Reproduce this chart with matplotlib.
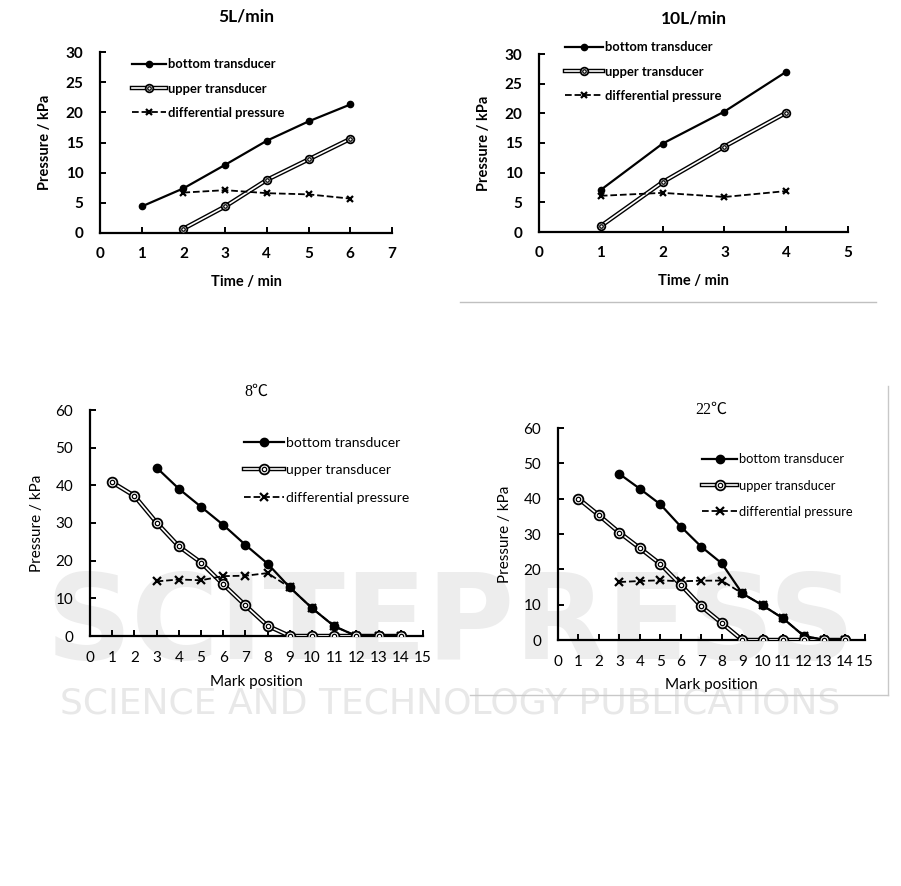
import matplotlib
matplotlib.use('Agg')
import matplotlib.pyplot as plt
from matplotlib.lines import Line2D

# top panels: pressure vs time
t5 = [1, 2, 3, 4, 5, 6]
bottom5 = [4.4, 7.4, 11.3, 15.3, 18.5, 21.3]
t5_up = [2, 3, 4, 5, 6]
upper5 = [0.7, 4.4, 8.8, 12.2, 15.6]
diff5 = [6.7, 7.1, 6.6, 6.4, 5.7]

t10 = [1, 2, 3, 4]
bottom10 = [7.1, 14.9, 20.3, 27.0]
upper10 = [1.0, 8.4, 14.4, 20.1]
diff10 = [6.1, 6.6, 5.9, 6.9]

# bottom panels: pressure vs mark position
mark_b = [3, 4, 5, 6, 7, 8, 9, 10, 11, 12, 13, 14]
mark_u = [1, 2, 3, 4, 5, 6, 7, 8, 9, 10, 11, 12, 13, 14]
bottom8 = [44.7, 39.1, 34.3, 29.5, 24.2, 19.2, 12.9, 7.4, 2.6, 0, 0, 0]
upper8 = [40.8, 37.2, 30.1, 23.8, 19.5, 13.7, 8.1, 2.7, 0, 0, 0, 0, 0, 0]
diff8 = [14.5, 15.0, 14.8, 15.9, 16.0, 16.7, 12.9, 7.4, 2.6, 0, 0, 0]

bottom22 = [47.0, 42.8, 38.4, 32.1, 26.4, 21.7, 13.2, 9.8, 6.1, 1.2, 0, 0]
upper22 = [40.0, 35.3, 30.4, 26.0, 21.5, 15.6, 9.5, 4.8, 0, 0, 0, 0, 0, 0]
diff22 = [16.4, 16.7, 16.9, 16.6, 16.8, 16.8, 13.2, 9.8, 6.1, 1.2, 0, 0]

labels = ['bottom transducer', 'upper transducer', 'differential pressure']

W, H = 901, 886
fig = plt.figure(figsize=(W / 100, H / 100), dpi=100)
fig.patch.set_facecolor('white')

# faint watermark behind everything
fig.text(0.5, 1 - 626 / H, 'SCITEPRESS', ha='center', va='center', fontsize=86,
         fontweight='bold', color='#ededed', family='DejaVu Sans', zorder=-5)
fig.text(0.5, 1 - 703 / H, 'SCIENCE AND TECHNOLOGY PUBLICATIONS', ha='center', va='center',
         fontsize=26, color='#e8e8e8', family='DejaVu Sans', zorder=-5)


def px_axes(l, r, t, b):
    ax = fig.add_axes([l / W, 1 - b / H, (r - l) / W, (b - t) / H])
    ax.patch.set_alpha(0)
    for s in ['top', 'right']:
        ax.spines[s].set_visible(False)
    for s in ['left', 'bottom']:
        ax.spines[s].set_linewidth(1.6)
    ax.tick_params(direction='in', length=4, width=1.4)
    ax.tick_params(axis='y', pad=12)
    return ax


def draw(ax, xb, yb, xu, yu, xd, yd, ms):
    ax.plot(xb, yb, '-', color='black', lw=1.6, marker='o', ms=ms, zorder=4)
    ax.plot(xu, yu, '-', color='black', lw=3.2, zorder=3)
    ax.plot(xu, yu, '-', color='white', lw=1.2, zorder=3)
    ax.plot(xu, yu, 'o', mfc='white', mec='black', mew=1.3, ms=ms + 1, zorder=5)
    ax.plot(xu, yu, 'o', mfc='none', mec='black', mew=0.9, ms=(ms + 1) / 2.2, zorder=5)
    ax.plot(xd, yd, '--', color='black', lw=1.3, marker='x', ms=ms, mew=1.6, zorder=4)


def legend(ax, x, y, ms, fs, weight, spacing, hl):
    h1 = Line2D([], [], color='black', lw=1.6, marker='o', ms=ms)
    h2a = Line2D([], [], color='black', lw=3.2)
    h2b = Line2D([], [], color='white', lw=1.2)
    h2c = Line2D([], [], ls='', marker='o', mfc='white', mec='black', mew=1.3, ms=ms + 1)
    h2d = Line2D([], [], ls='', marker='o', mfc='none', mec='black', mew=0.9, ms=(ms + 1) / 2.2)
    h3 = Line2D([], [], color='black', lw=1.3, ls='--', marker='x', ms=ms, mew=1.6)
    leg = ax.legend([h1, (h2a, h2b, h2c, h2d), h3], labels, loc='upper left',
                    bbox_to_anchor=(x / W, 1 - y / H), bbox_transform=fig.transFigure,
                    frameon=False, borderpad=0, handlelength=hl, handletextpad=0.15,
                    labelspacing=spacing, prop={'size': fs, 'weight': weight, 'family': 'Lato'})
    return leg


def style_ticks(ax, fs, weight):
    for lb in ax.get_xticklabels() + ax.get_yticklabels():
        lb.set_fontsize(fs)
        lb.set_fontweight(weight)
        lb.set_family('Lato')


# ---- 5 L/min ----
ax1 = px_axes(100, 392, 52, 233)
draw(ax1, t5, bottom5, t5_up, upper5, t5_up, diff5, 4.5)
ax1.set_xlim(0, 7)
ax1.set_ylim(0, 30)
ax1.set_xticks(range(0, 8))
ax1.set_yticks(range(0, 31, 5))
ax1.set_title('5L/min', fontsize=12.5, fontweight='bold', family='Lato', pad=22)
ax1.set_xlabel('Time / min', fontsize=10.5, fontweight='bold', family='Lato', labelpad=10)
ax1.set_ylabel('Pressure / kPa', fontsize=10.5, fontweight='bold', family='Lato', labelpad=10)
ax1.tick_params(axis='x', pad=10)
style_ticks(ax1, 11, 'bold')
legend(ax1, 126, 52, 4.5, 9.3, 'bold', 0.95, 2.6)

# ---- 10 L/min ----
ax2 = px_axes(539, 848, 54, 232)
draw(ax2, t10, bottom10, t10, upper10, t10, diff10, 4.5)
ax2.set_xlim(0, 5)
ax2.set_ylim(0, 30)
ax2.set_xticks(range(0, 6))
ax2.set_yticks(range(0, 31, 5))
ax2.set_title('10L/min', fontsize=12.5, fontweight='bold', family='Lato', pad=22)
ax2.set_xlabel('Time / min', fontsize=10.5, fontweight='bold', family='Lato', labelpad=10)
ax2.set_ylabel('Pressure / kPa', fontsize=10.5, fontweight='bold', family='Lato', labelpad=10)
ax2.tick_params(axis='x', pad=10)
style_ticks(ax2, 11, 'bold')
legend(ax2, 559, 35, 4.5, 9.3, 'bold', 0.95, 2.9)
fig.add_artist(Line2D([460 / W, 876 / W], [1 - 302 / H, 1 - 302 / H], color='#c0c0c0', lw=1))

# ---- 8 C ----
ax3 = px_axes(90, 423, 410, 636)
draw(ax3, mark_b, bottom8, mark_u, upper8, mark_b, diff8, 6)
ax3.set_xlim(0, 15)
ax3.set_ylim(0, 60)
ax3.set_xticks(range(0, 16))
ax3.set_yticks(range(0, 61, 10))
ax3.set_title('8℃', fontsize=11.5, family=['Liberation Serif', 'Noto Sans CJK SC'], pad=10)
ax3.set_xlabel('Mark position', fontsize=11, family='Lato', labelpad=7)
ax3.set_ylabel('Pressure / kPa', fontsize=11, family='Lato', labelpad=8)
ax3.tick_params(axis='x', pad=11)
style_ticks(ax3, 11, 'normal')
legend(ax3, 237, 430, 6, 10, 'normal', 1.1, 2.9)

# ---- 22 C ----
ax4 = px_axes(558, 865, 428, 640)
draw(ax4, mark_b, bottom22, mark_u, upper22, mark_b, diff22, 6)
ax4.set_xlim(0, 15)
ax4.set_ylim(0, 60)
ax4.set_xticks(range(0, 16))
ax4.set_yticks(range(0, 61, 10))
ax4.set_title('22℃', fontsize=11.5, family=['Liberation Serif', 'Noto Sans CJK SC'], pad=10)
ax4.set_xlabel('Mark position', fontsize=11, family='Lato', labelpad=6)
ax4.set_ylabel('Pressure / kPa', fontsize=11, family='Lato', labelpad=8)
ax4.tick_params(axis='x', pad=11)
style_ticks(ax4, 11, 'normal')
legend(ax4, 696, 447, 6, 9.3, 'normal', 1.1, 2.7)
fig.add_artist(Line2D([888 / W, 888 / W], [1 - 386 / H, 1 - 695 / H], color='#c8c8c8', lw=1))
fig.add_artist(Line2D([470 / W, 888 / W], [1 - 695 / H, 1 - 695 / H], color='#c8c8c8', lw=1))

fig.savefig('out.png', dpi=100)
